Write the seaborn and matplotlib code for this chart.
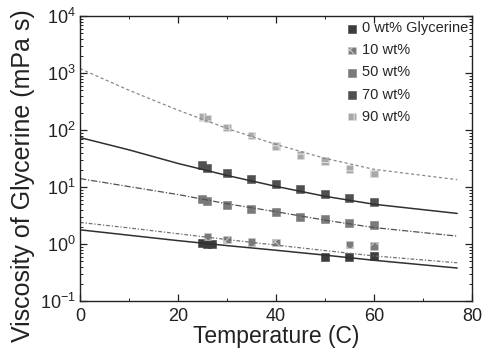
import numpy as np
import pandas as pd
import matplotlib
matplotlib.use("Agg")
import matplotlib.pyplot as plt
import seaborn as sns
from matplotlib.ticker import LogLocator, MultipleLocator, NullFormatter

sns.set_theme(style="ticks")
plt.rcParams['font.family'] = ['Liberation Sans', 'DejaVu Sans']
plt.rcParams['hatch.linewidth'] = 0.8

labels = ["0 wt% Glycerine", "10 wt%", "50 wt%", "70 wt%", "90 wt%"]

# measured points
x_0 = [25, 26, 27, 50, 55, 60]
y_0 = [1.05, 1.02, 1.0, 0.60, 0.60, 0.61]
x_10 = [26, 30, 35, 40, 55, 60]
y_10 = [1.35, 1.2, 1.1, 1.07, 0.98, 0.92]
x_50 = [25, 26, 30, 35, 40, 45, 50, 55, 60]
y_50 = [6.1, 5.7, 4.8, 4.05, 3.6, 3.0, 2.8, 2.3, 2.2]
x_70 = [25, 26, 30, 35, 40, 45, 50, 55, 60]
y_70 = [24, 22, 17.8, 14, 11.4, 9.1, 7.6, 6.5, 5.5]
x_90 = [25, 26, 30, 35, 40, 45, 50, 55, 60]
y_90 = [168, 160, 111, 80, 52, 37, 29, 21, 17.3]

# fitted curves
fit_x = [0, 10, 20, 30, 40, 50, 60, 77]
fit_0 = [1.78, 1.43, 1.15, 0.94, 0.78, 0.64, 0.52, 0.38]
fit_10 = [2.4, 1.92, 1.52, 1.2, 0.96, 0.77, 0.62, 0.47]
fit_50 = [14.1, 10.2, 7.4, 5.1, 3.7, 2.63, 1.95, 1.38]
fit_70 = [74, 45, 26, 16, 10.3, 6.9, 5.0, 3.45]
fit_90 = [1200, 500, 224, 107, 56, 32, 20.5, 13.5]

pts_x = [x_0, x_10, x_50, x_70, x_90]
pts_y = [y_0, y_10, y_50, y_70, y_90]
fits = [fit_0, fit_10, fit_50, fit_70, fit_90]

mcolors = ["#3c3c3c", "#7a7a7a", "#7a7a7a", "#505050", "#a8a8a8"]
ecolors = ["#3c3c3c", "#c8c8c8", "#7a7a7a", "#505050", "#dedede"]
hatches = [None, "xx", None, None, "++"]
lcolors = ["#303030", "#707070", "#505050", "#303030", "#8a8a8a"]
lstyles = ["-", (0, (3, 1.5, 1, 1.5)), (0, (5, 1.5, 1, 1.5)), "-", (0, (2.5, 2))]
lwidths = [1.1, 0.9, 0.9, 1.1, 0.9]

fig = plt.figure(figsize=(4.88, 3.58), dpi=100)
ax = fig.add_axes([0.164, 0.159, 0.803, 0.796])

for i in range(5):
    dfl = pd.DataFrame({"T": fit_x, "v": fits[i]})
    sns.lineplot(data=dfl, x="T", y="v", ax=ax, color=lcolors[i],
                 linestyle=lstyles[i], linewidth=lwidths[i], legend=False)

for i in range(5):
    dfp = pd.DataFrame({"T": pts_x[i], "v": pts_y[i]})
    kw = {}
    if hatches[i]:
        kw["hatch"] = hatches[i]
    sns.scatterplot(data=dfp, x="T", y="v", ax=ax, marker="s", s=30,
                    color=mcolors[i], edgecolor=ecolors[i], linewidth=0.4,
                    label=labels[i], **kw)

ax.set_yscale("log")
ax.set_xlim(0, 80)
ax.set_ylim(0.1, 1e4)
ax.xaxis.set_major_locator(MultipleLocator(20))
ax.xaxis.set_minor_locator(MultipleLocator(10))
ax.yaxis.set_major_locator(LogLocator(base=10, numticks=10))
ax.yaxis.set_minor_locator(LogLocator(base=10, subs=np.arange(2, 10), numticks=20))
ax.yaxis.set_minor_formatter(NullFormatter())
ax.tick_params(which="both", direction="in", top=True, right=True, colors="#222222",
               labelsize=13)
ax.tick_params(which="major", length=5, width=0.9)
ax.tick_params(which="minor", length=2.5, width=0.7)
ax.tick_params(axis="x", pad=5)
ax.tick_params(axis="y", pad=3)
for sp in ax.spines.values():
    sp.set_visible(True)
    sp.set_linewidth(1.0)
    sp.set_color("#222222")

ax.set_xlabel("Temperature (C)", fontsize=16.5, color="#222222", labelpad=0)
ax.set_ylabel("Viscosity of Glycerine (mPa s)", fontsize=18, color="#222222")
ax.yaxis.set_label_coords(-0.145, 0.44)
ax.yaxis.label.set_verticalalignment("center")

ax.legend(loc="upper right", frameon=False, fontsize=10.5, handletextpad=0.2,
          labelspacing=0.55, borderaxespad=0.2, handlelength=1.0,
          bbox_to_anchor=(1.014, 1.012))

fig.savefig("out.png", dpi=100)
